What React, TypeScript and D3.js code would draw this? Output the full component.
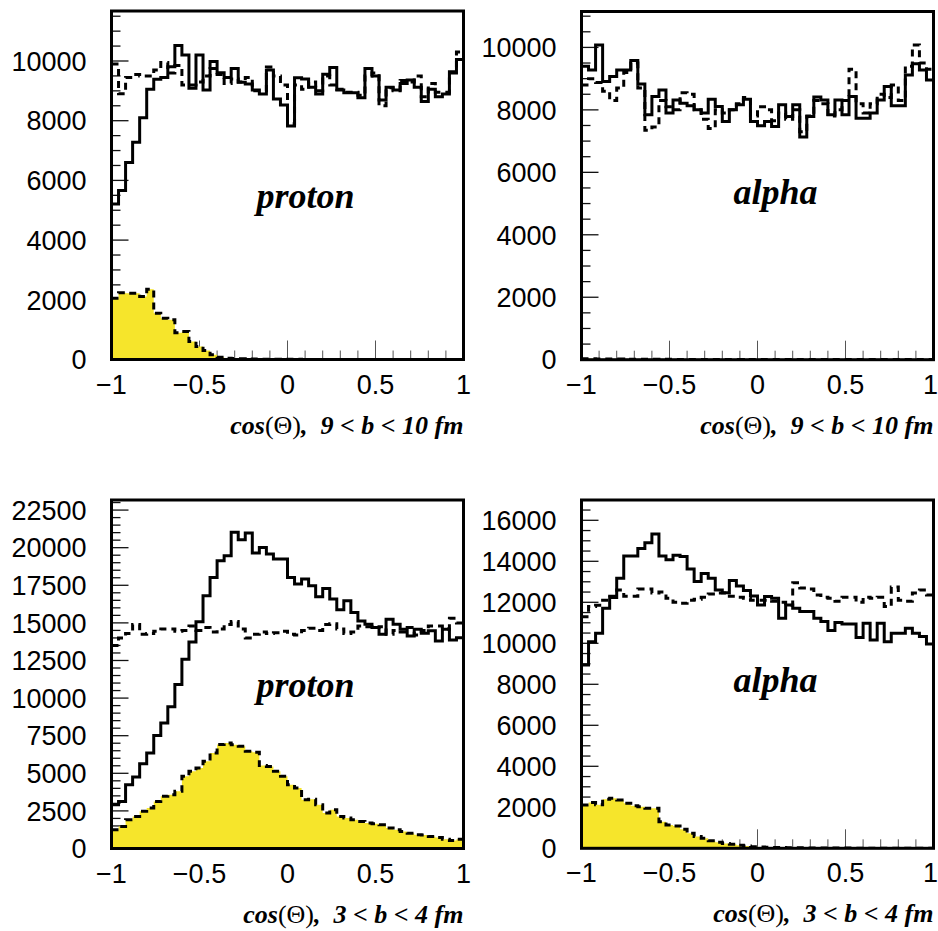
import React from "react";
import * as d3 from "d3";

const W = 938;
const H = 931;

// ---- tick labels ----
const xTickValues = [-1, -0.5, 0, 0.5, 1];
const xTickLabels = ["\u22121", "\u22120.5", "0", "0.5", "1"];
const yTicksPeriph = [0, 2000, 4000, 6000, 8000, 10000];
const yTicksCentralProton = [0, 2500, 5000, 7500, 10000, 12500, 15000, 17500, 20000, 22500];
const yTicksCentralAlpha = [0, 2000, 4000, 6000, 8000, 10000, 12000, 14000, 16000];

// ---- proton, 9 < b < 10 fm ----
const protonPeriphSolid = [5210, 5660, 6600, 7280, 8100, 9050, 9385, 9450, 9810, 10520, 10200, 9085, 10200, 9030, 9980, 9610, 9450, 9750, 9285, 9230, 9030, 8895, 9700, 8730, 8530, 7820, 9440, 9400, 9120, 8895, 9560, 9780, 9030, 8940, 8940, 8770, 9750, 9500, 8690, 9120, 9030, 9250, 9360, 9120, 8640, 9050, 8800, 8895, 9640, 10050];
const protonPeriphDashed = [9900, 8900, 9450, 9550, 9500, 9500, 9700, 9950, 9600, 9850, 9200, 9200, 9300, 9500, 9750, 9550, 9250, 9400, 9300, 9450, 9000, 9000, 9800, 9500, 9200, 7900, 9200, 9050, 9300, 9000, 9500, 9200, 9050, 8950, 8950, 8850, 9500, 9600, 8500, 9100, 9000, 9350, 9300, 9500, 8800, 9250, 8950, 8950, 9600, 10300];
const protonPeriphFilled = [2050, 2240, 2220, 2220, 2110, 2350, 1550, 1380, 1330, 900, 940, 600, 435, 300, 156, 78, 45, 33, 25, 20, 15, 12, 10, 8, 6, 5, 5, 4, 4, 3, 3, 3, 2, 2, 2, 2, 2, 1, 1, 1, 1, 1, 1, 1, 1, 1, 1, 1, 1, 1];

// ---- alpha, 9 < b < 10 fm ----
const alphaPeriphSolid = [9400, 9280, 10080, 8910, 9070, 9280, 9280, 9580, 8830, 7840, 8430, 8640, 7900, 8320, 8215, 8130, 8000, 7900, 8340, 8110, 7630, 8000, 8160, 8340, 7630, 7490, 7630, 7470, 8160, 7790, 8160, 7130, 7790, 8410, 8320, 7840, 8320, 7840, 8430, 7735, 7735, 7900, 8320, 8750, 8130, 8130, 9120, 9475, 9280, 8960];
const alphaPeriphDashed = [8800, 9000, 8880, 8600, 8300, 8700, 9200, 9500, 8700, 7350, 7450, 8300, 8100, 8000, 8550, 8500, 8000, 7700, 7400, 8000, 7900, 8000, 8200, 8400, 7800, 8100, 8000, 7650, 7900, 7700, 8000, 7300, 7800, 8300, 8200, 7800, 8000, 8300, 9300, 8200, 7900, 8200, 8500, 8400, 8800, 8300, 9400, 10080, 9500, 9300];
const alphaPeriphFilled = [30, 28, 26, 24, 22, 20, 18, 16, 15, 14, 13, 12, 11, 10, 10, 9, 9, 8, 8, 8, 7, 7, 7, 6, 6, 6, 6, 5, 5, 5, 5, 5, 5, 5, 5, 5, 5, 5, 5, 5, 5, 5, 5, 5, 5, 5, 5, 5, 5, 5];

// ---- proton, 3 < b < 4 fm ----
const protonCentralSolid = [2910, 3130, 4240, 4750, 5640, 6350, 7510, 8350, 9420, 10910, 12580, 13730, 15070, 16800, 18020, 19130, 19470, 21020, 20530, 20980, 19640, 20020, 19580, 19240, 19240, 18020, 17580, 17910, 17470, 16730, 17290, 16580, 15870, 16470, 15690, 15130, 14910, 14690, 14240, 15240, 14910, 14580, 14130, 14580, 14310, 14470, 13800, 14580, 13870, 14020];
const protonCentralDashed = [13500, 14000, 14300, 14900, 14250, 14300, 14450, 14600, 14600, 14450, 14500, 14800, 14500, 14700, 14400, 14600, 14900, 15100, 14600, 14000, 14250, 14400, 14300, 14350, 14450, 14250, 14200, 14500, 14650, 14500, 14900, 14950, 14600, 14300, 14400, 14800, 14750, 14700, 14750, 14250, 14500, 14400, 14700, 14200, 14500, 14800, 14800, 14600, 15300, 15000];
const protonCentralFilled = [1240, 1460, 1910, 2130, 2470, 2690, 3130, 3470, 3580, 3800, 4800, 5130, 5360, 5800, 6350, 6910, 7020, 6900, 6800, 6470, 6400, 5510, 5450, 5130, 4800, 4240, 4020, 3240, 3280, 2910, 2360, 2580, 2130, 2020, 1910, 1800, 1690, 1650, 1580, 1360, 1240, 1130, 1020, 910, 900, 800, 730, 620, 530, 620];

// ---- alpha, 3 < b < 4 fm ----
const alphaCentralSolid = [8940, 10080, 10490, 11710, 12240, 13170, 14260, 14260, 14630, 14910, 15330, 14260, 14070, 14290, 14230, 13630, 13010, 13410, 13170, 12600, 12470, 13060, 12800, 12570, 12310, 11870, 12280, 12200, 11220, 11870, 11710, 11545, 11545, 11220, 11060, 10620, 11010, 10940, 10940, 10280, 10980, 10160, 10980, 10080, 10490, 10490, 10730, 10490, 10330, 9970];
const alphaCentralDashed = [11300, 11800, 11850, 12100, 12300, 12600, 12300, 12300, 12650, 12650, 12450, 12500, 12200, 12000, 11950, 12100, 12150, 12250, 12400, 12450, 12450, 12300, 12250, 12200, 12100, 12100, 12100, 12050, 12000, 11850, 12950, 12700, 12650, 12350, 12250, 12200, 12050, 12250, 12250, 12000, 12250, 12200, 12250, 11800, 12750, 12100, 12050, 12450, 12600, 12350];
const alphaCentralFilled = [2110, 2230, 2120, 2390, 2440, 2360, 2200, 2070, 2030, 1950, 1950, 1300, 1140, 1090, 930, 730, 570, 490, 370, 290, 240, 195, 146, 110, 80, 65, 55, 45, 40, 30, 30, 25, 20, 20, 15, 15, 12, 10, 10, 8, 8, 6, 6, 5, 5, 5, 4, 4, 3, 3];

const YELLOW = "#f6e52b";
const NBINS = 50;

type PanelCfg = {
  x0: number; x1: number; y0: number; y1: number;
  yMax: number; yTicks: number[]; yMinorStep: number;
  solid: number[]; dashed: number[]; filled: number[];
  label: string; bText: string;
};

const panels: PanelCfg[] = [
  { x0: 111.5, x1: 463.5, y0: 11, y1: 359.5, yMax: 11675, yTicks: yTicksPeriph, yMinorStep: 500,
    solid: protonPeriphSolid, dashed: protonPeriphDashed, filled: protonPeriphFilled, label: "proton", bText: "9 < b < 10 fm" },
  { x0: 581.5, x1: 933.5, y0: 11.5, y1: 359.7, yMax: 11150, yTicks: yTicksPeriph, yMinorStep: 500,
    solid: alphaPeriphSolid, dashed: alphaPeriphDashed, filled: alphaPeriphFilled, label: "alpha", bText: "9 < b < 10 fm" },
  { x0: 111.5, x1: 463.5, y0: 500, y1: 848.5, yMax: 23170, yTicks: yTicksCentralProton, yMinorStep: 500,
    solid: protonCentralSolid, dashed: protonCentralDashed, filled: protonCentralFilled, label: "proton", bText: "3 < b < 4 fm" },
  { x0: 581.5, x1: 933.5, y0: 500, y1: 848.3, yMax: 16990, yTicks: yTicksCentralAlpha, yMinorStep: 500,
    solid: alphaCentralSolid, dashed: alphaCentralDashed, filled: alphaCentralFilled, label: "alpha", bText: "3 < b < 4 fm" },
];

const sansFont = "'Liberation Sans', Arial, Helvetica, sans-serif";
const serifFont = "'Liberation Serif', 'Times New Roman', Times, serif";

function Panel({ p, idx }: { p: PanelCfg; idx: number }) {
  const x = d3.scaleLinear().domain([-1, 1]).range([p.x0, p.x1]);
  const y = d3.scaleLinear().domain([0, p.yMax]).range([p.y1, p.y0]);
  const edges = d3.range(NBINS + 1).map((i) => -1 + (2 * i) / NBINS);
  const pts = (vals: number[]): [number, number][] => [
    ...vals.map((v, i) => [edges[i], v] as [number, number]),
    [edges[NBINS], vals[vals.length - 1]],
  ];
  const line = d3.line<[number, number]>().x((d) => x(d[0])).y((d) => y(d[1])).curve(d3.curveStepAfter);
  const area = d3.area<[number, number]>().x((d) => x(d[0])).y0(y(0)).y1((d) => y(d[1])).curve(d3.curveStepAfter);

  const yMinor = d3.range(0, p.yMax, p.yMinorStep);
  const xMinor = d3.range(0, 21).map((i) => -1 + i * 0.1);
  const isMajorX = (v: number) => Math.abs(v * 2 - Math.round(v * 2)) < 1e-6;
  const isMajorY = (v: number) => p.yTicks.some((t) => Math.abs(t - v) < 1e-6);
  const clipId = `clip${idx}`;
  const cx = (p.x0 + p.x1) / 2 + 18;

  return (
    <g>
      <defs>
        <clipPath id={clipId}>
          <rect x={p.x0} y={p.y0} width={p.x1 - p.x0} height={p.y1 - p.y0} />
        </clipPath>
      </defs>
      {yMinor.map((v) => (
        <line key={"yt" + v} x1={p.x0} x2={p.x0 + (isMajorY(v) ? 17 : 9)} y1={y(v)} y2={y(v)} stroke="#111" strokeWidth={1.3} />
      ))}
      {xMinor.map((v, i) => (
        <line key={"xt" + i} x1={x(v)} x2={x(v)} y1={p.y1} y2={p.y1 - (isMajorX(v) ? 19 : 9)} stroke="#555" strokeWidth={1} />
      ))}
      <g clipPath={`url(#${clipId})`}>
        <path d={area(pts(p.filled)) || ""} fill={YELLOW} stroke="none" />
        <path d={line(pts(p.filled)) || ""} fill="none" stroke="#000" strokeWidth={3} strokeDasharray="7,5" />
        <path d={line(pts(p.solid)) || ""} fill="none" stroke="#000" strokeWidth={3} />
        <path d={line(pts(p.dashed)) || ""} fill="none" stroke="#000" strokeWidth={3} strokeDasharray="7,5" />
      </g>
      <rect x={p.x0} y={p.y0} width={p.x1 - p.x0} height={p.y1 - p.y0} fill="none" stroke="#000" strokeWidth={3} />
      {p.yTicks.map((v) => (
        <text key={"yl" + v} x={p.x0 - 25} y={y(v)} dy="0.36em" textAnchor="end" fontFamily={sansFont} fontSize={27} fill="#000">
          {String(v)}
        </text>
      ))}
      {xTickValues.map((v, i) => {
        const px = x(v);
        const last = px + 8 > W;
        return (
          <text key={"xl" + i} x={last ? W : px} y={p.y1 + 34} textAnchor={last ? "end" : "middle"} fontFamily={sansFont} fontSize={27} fill="#000">
            {xTickLabels[i]}
          </text>
        );
      })}
      <text x={p.x1} y={p.y1 + 74} textAnchor="end" fontFamily={serifFont} fontSize={26} fontWeight="bold" fontStyle="italic" fill="#000">
        <tspan>cos</tspan>
        <tspan fontWeight="normal" fontStyle="normal">(Θ)</tspan>
        <tspan>{",\u00a0\u00a0" + p.bText}</tspan>
      </text>
      <text x={cx} y={p.label === "proton" ? p.y0 + 197 : p.y0 + 192} textAnchor="middle" fontFamily={serifFont} fontSize={36} fontWeight="bold" fontStyle="italic" fill="#000">
        {p.label}
      </text>
    </g>
  );
}

export default function App() {
  return (
    <svg width={W} height={H} viewBox={`0 0 ${W} ${H}`} style={{ display: "block", position: "absolute", left: 0, top: 0, background: "#fff" }}>
      <rect x={0} y={0} width={W} height={H} fill="#fff" />
      {panels.map((p, i) => (
        <Panel key={i} p={p} idx={i} />
      ))}
    </svg>
  );
}
